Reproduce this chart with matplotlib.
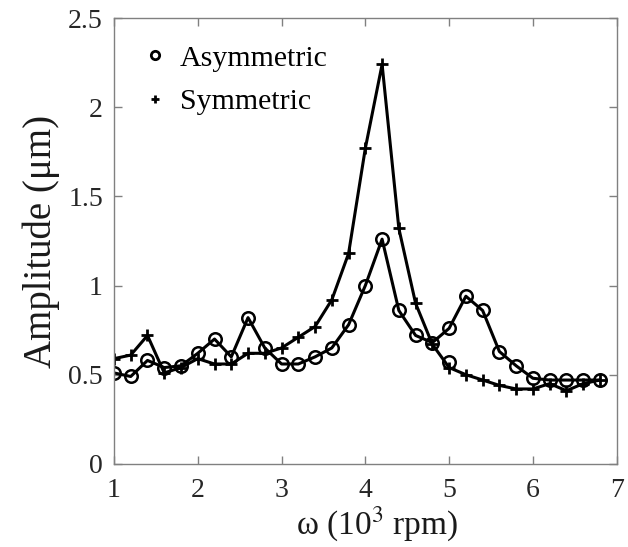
import numpy as np
import matplotlib
matplotlib.use("Agg")
import matplotlib.pyplot as plt
from matplotlib.lines import Line2D
from matplotlib.ticker import FormatStrFormatter

# rotor speed (10^3 rpm)
omega = [1.0, 1.2, 1.4, 1.6, 1.8, 2.0, 2.2, 2.4, 2.6, 2.8,
         3.0, 3.2, 3.4, 3.6, 3.8, 4.0, 4.2, 4.4, 4.6, 4.8,
         5.0, 5.2, 5.4, 5.6, 5.8, 6.0, 6.2, 6.4, 6.6, 6.8]

asym = [0.51, 0.49, 0.58, 0.54, 0.55, 0.62, 0.70, 0.60, 0.82, 0.65,
        0.56, 0.56, 0.60, 0.65, 0.78, 1.00, 1.26, 0.86, 0.72, 0.68,
        0.76, 0.94, 0.86, 0.63, 0.55, 0.48, 0.47, 0.47, 0.47, 0.47]

sym = [0.59, 0.61, 0.72, 0.51, 0.54, 0.59, 0.56, 0.56, 0.62, 0.62,
       0.65, 0.71, 0.77, 0.92, 1.18, 1.77, 2.24, 1.32, 0.90, 0.67,
       0.54, 0.50, 0.47, 0.44, 0.42, 0.42, 0.45, 0.41, 0.45, 0.47]

# stray circle sitting on the symmetric curve
extra_x = [5.0]
extra_y = [0.573]

xticks = [1, 2, 3, 4, 5, 6, 7]
yticks = [0, 0.5, 1, 1.5, 2, 2.5]

plt.rcParams['font.family'] = ['Liberation Serif', 'DejaVu Serif']
plt.rcParams['mathtext.fontset'] = 'stix'

fig = plt.figure(figsize=(6.28, 5.47), dpi=100)
ax = fig.add_axes([0.1815, 0.152, 0.8005, 0.815])

ax.plot(omega, asym, '-o', color='k', lw=2.2, ms=9, mew=1.8, mfc='none')
ax.plot(omega, sym, '-+', color='k', lw=2.2, ms=9, mew=2.0)
ax.plot(extra_x, extra_y, 'o', color='k', ms=9, mew=1.8, mfc='none')

ax.set_xlim(1, 7)
ax.set_ylim(0, 2.5)
ax.set_xticks(xticks)
ax.set_yticks(yticks)
ax.yaxis.set_major_formatter(FormatStrFormatter('%g'))
ax.tick_params(direction='in', length=6, width=1, color='#808080',
               labelsize=20, labelcolor='#262626', top=True, right=True, pad=8)
ax.tick_params(axis='x', pad=10)
for s in ax.spines.values():
  s.set_color('#808080')
  s.set_linewidth(1)

ax.set_xlabel(r'ω (10$^3$ rpm)', fontsize=24, color='#1a1a1a', labelpad=0)
ax.xaxis.set_label_coords(0.523, -0.093)
ax.set_ylabel('Amplitude (μm)', fontsize=28, color='#1a1a1a', labelpad=6)

h1 = Line2D([], [], ls='none', marker='o', color='k', ms=6, mew=2, mfc='none')
h2 = Line2D([], [], ls='none', marker='+', color='k', ms=6, mew=2)
ax.legend([h1, h2], ['Asymmetric', 'Symmetric'], loc='upper left',
          frameon=False, fontsize=21.5, handlelength=1.0, handletextpad=0.35,
          labelspacing=0.55, borderpad=0.4, bbox_to_anchor=(-0.002, 1.0))

fig.savefig('out.png', dpi=100)
